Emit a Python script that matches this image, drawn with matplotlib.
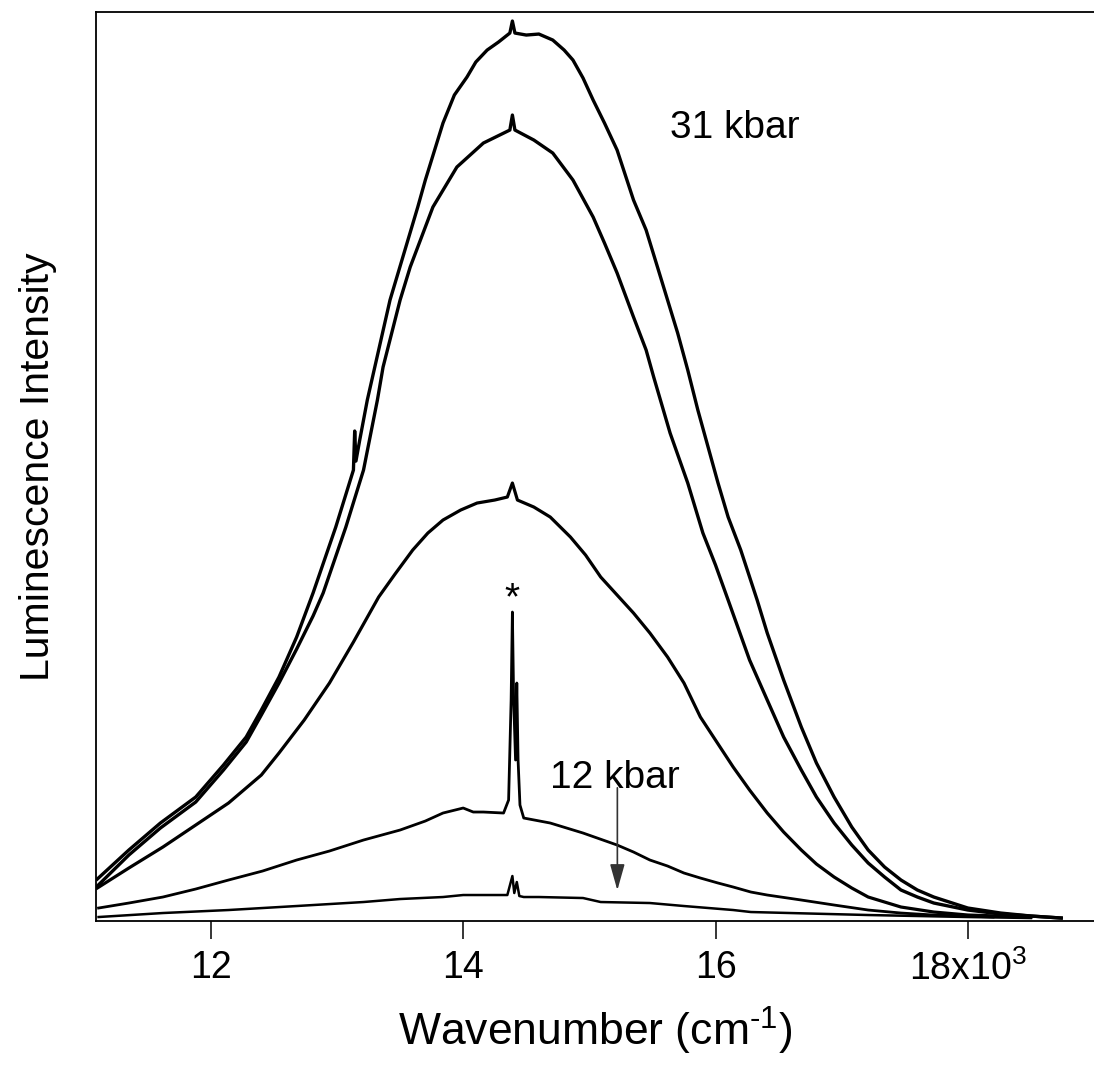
import matplotlib
matplotlib.use("Agg")
import matplotlib.pyplot as plt
from matplotlib.ticker import FixedLocator, FixedFormatter

plt.rcParams["font.family"] = ["Liberation Sans", "DejaVu Sans"]
plt.rcParams["mathtext.fontset"] = "custom"
plt.rcParams["mathtext.rm"] = "Liberation Sans"
plt.rcParams["mathtext.default"] = "regular"

# ── spectra (wavenumber in cm-1, intensity in arb. units) ──
wn_31 = [11100, 11350, 11600, 11880, 12100, 12280, 12400, 12540, 12680, 12810,
         12900, 12990, 13130, 13140, 13150, 13180, 13240, 13420, 13640, 13700,
         13840, 13930, 14030, 14100, 14190, 14280, 14370, 14390, 14410, 14500,
         14600, 14710, 14800, 14870, 14950, 15030, 15120, 15220, 15350, 15450,
         15540, 15700, 15780, 15860, 16020, 16100, 16200, 16330, 16410, 16540,
         16680, 16800, 16940, 17080, 17210, 17340, 17470, 17600, 17730, 18000,
         18260, 18500, 18740]
int_31 = [0.42, 0.71, 0.98, 1.24, 1.56, 1.84, 2.11, 2.44, 2.84, 3.28,
          3.61, 3.94, 4.51, 4.90, 4.60, 4.81, 5.21, 6.21, 7.14, 7.41,
          7.98, 8.26, 8.44, 8.59, 8.71, 8.79, 8.88, 9.00, 8.88, 8.86,
          8.87, 8.81, 8.71, 8.61, 8.43, 8.21, 7.98, 7.71, 7.21, 6.91,
          6.54, 5.88, 5.51, 5.11, 4.38, 4.04, 3.71, 3.21, 2.88, 2.41,
          1.94, 1.58, 1.24, 0.94, 0.71, 0.54, 0.41, 0.31, 0.24, 0.13,
          0.08, 0.05, 0.03]

wn_b = [11100, 11350, 11600, 11880, 12100, 12280, 12400, 12540, 12680, 12810,
        12890, 12980, 13070, 13210, 13320, 13365, 13500, 13580, 13760, 13950,
        14160, 14370, 14390, 14410, 14560, 14710, 14870, 15030, 15120, 15220,
        15350, 15450, 15510, 15640, 15780, 15900, 16000, 16100, 16270, 16410,
        16540, 16680, 16800, 16940, 17080, 17210, 17340, 17470, 17600, 17730,
        18000, 18260, 18500, 18740]
int_b = [0.35, 0.66, 0.93, 1.19, 1.51, 1.79, 2.06, 2.38, 2.72, 3.05,
         3.28, 3.61, 3.94, 4.51, 5.21, 5.54, 6.21, 6.54, 7.14, 7.54,
         7.78, 7.91, 8.06, 7.91, 7.81, 7.68, 7.41, 7.04, 6.78, 6.48,
         6.04, 5.71, 5.44, 4.88, 4.38, 3.88, 3.56, 3.21, 2.61, 2.21,
         1.84, 1.51, 1.24, 0.98, 0.76, 0.58, 0.44, 0.31, 0.24, 0.18,
         0.11, 0.07, 0.05, 0.03]

wn_c = [11100, 11350, 11620, 11880, 12140, 12400, 12540, 12740, 12940, 13130,
        13330, 13460, 13600, 13720, 13840, 13980, 14110, 14250, 14350, 14390,
        14430, 14560, 14690, 14850, 14970, 15090, 15220, 15350, 15480, 15620,
        15750, 15880, 16010, 16140, 16270, 16410, 16540, 16680, 16800, 16940,
        17080, 17210, 17340, 17470, 17730, 18000, 18500]
int_c = [0.33, 0.53, 0.74, 0.96, 1.18, 1.46, 1.68, 2.01, 2.38, 2.79,
         3.24, 3.47, 3.71, 3.88, 4.01, 4.11, 4.18, 4.21, 4.24, 4.38,
         4.21, 4.14, 4.04, 3.84, 3.66, 3.44, 3.26, 3.08, 2.88, 2.64,
         2.38, 2.04, 1.79, 1.54, 1.31, 1.08, 0.89, 0.71, 0.57, 0.44,
         0.33, 0.24, 0.19, 0.14, 0.09, 0.06, 0.04]

wn_d = [11110, 11350, 11620, 11880, 12140, 12410, 12680, 12940, 13210, 13500,
        13700, 13840, 14000, 14080, 14160, 14320, 14360, 14380, 14390, 14400,
        14415, 14425, 14435, 14450, 14480, 14690, 14950, 15220, 15350, 15480,
        15620, 15750, 15880, 16020, 16140, 16280, 16410, 16680, 16940, 17210,
        17470, 17730, 18200]
int_d = [0.13, 0.18, 0.24, 0.32, 0.41, 0.50, 0.61, 0.70, 0.81, 0.91,
         1.00, 1.08, 1.13, 1.09, 1.09, 1.08, 1.21, 2.21, 3.09, 2.21,
         1.61, 2.38, 1.61, 1.16, 1.03, 0.98, 0.88, 0.76, 0.69, 0.61,
         0.55, 0.48, 0.43, 0.38, 0.34, 0.29, 0.26, 0.21, 0.16, 0.11,
         0.08, 0.06, 0.04]

wn_12 = [11110, 11620, 12140, 12680, 13210, 13500, 13840, 14000, 14350, 14390,
         14405, 14425, 14445, 14480, 14600, 14950, 15090, 15480, 15750, 16140,
         16280, 17210, 18000, 18500]
int_12 = [0.04, 0.08, 0.11, 0.15, 0.19, 0.22, 0.24, 0.26, 0.26, 0.45,
          0.28, 0.39, 0.25, 0.24, 0.24, 0.23, 0.19, 0.18, 0.15, 0.11,
          0.09, 0.06, 0.04, 0.03]

tick_pos = [12000, 14000, 16000, 18000]
tick_lbl = ["12", "14", "16", "18x10$^{3}$"]

# ── figure ──
fig = plt.figure(figsize=(10.94, 10.66), dpi=100)
ax = fig.add_axes([0.0878, 0.136, 0.9122, 0.8527])

ax.plot(wn_31, int_31, color="black", lw=2.4, solid_joinstyle="round")
ax.plot(wn_b, int_b, color="black", lw=2.4, solid_joinstyle="round")
ax.plot(wn_c, int_c, color="black", lw=2.3, solid_joinstyle="round")
ax.plot(wn_d, int_d, color="black", lw=2.0, solid_joinstyle="round")
ax.plot(wn_12, int_12, color="black", lw=1.8, solid_joinstyle="round")

ax.set_xlim(11090, 19000)
ax.set_ylim(0, 9.09)

ax.xaxis.set_major_locator(FixedLocator(tick_pos))
ax.xaxis.set_major_formatter(FixedFormatter(tick_lbl))
ax.tick_params(axis="x", direction="out", length=13, width=1.1,
               labelsize=27, pad=8)
ax.set_yticks([])
ax.spines["right"].set_visible(False)
for s in ("left", "bottom", "top"):
    ax.spines[s].set_linewidth(1.3)

ax.set_xlabel("Wavenumber (cm$^{\u2010 1}$)", fontsize=32, labelpad=12)
ax.set_ylabel("Luminescence Intensity", fontsize=29.5, labelpad=28)

# annotations
ax.text(15643, 7.93, "31 kbar", fontsize=28, ha="left", va="center")
ax.text(14691, 1.43, "12 kbar", fontsize=28, ha="left", va="center")
ax.text(14390, 3.22, "*", fontsize=28, ha="center", va="center")
ax.annotate("", xy=(15222, 0.28), xytext=(15222, 1.36),
            arrowprops=dict(arrowstyle="-|>,head_length=1.6,head_width=0.45",
                            color="#333333", lw=1.2))

fig.savefig("out.png", dpi=100)
